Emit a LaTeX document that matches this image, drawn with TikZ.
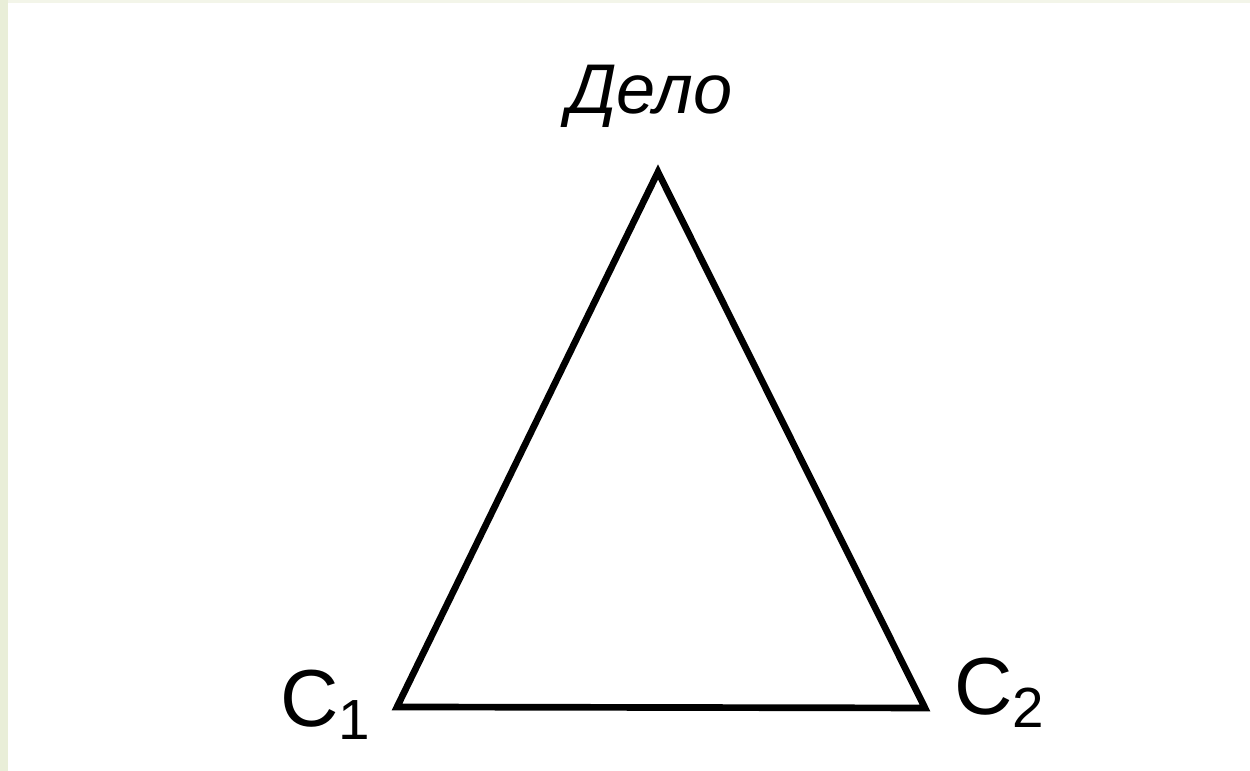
\documentclass[tikz,border=0pt]{standalone}
\usepackage{fontspec}
\setmainfont{Liberation Sans}
\usetikzlibrary{positioning}
\definecolor{stripgreen}{RGB}{233,238,216}
\definecolor{striptop}{RGB}{243,245,233}
\tikzset{
    side/.style={line width=1.9pt, line join=miter},
    corner/.style={font=\fontsize{23}{26}\selectfont, inner sep=0pt}
}
\begin{document}
\begin{tikzpicture}[x=0.01cm, y=0.01cm]
    % Frame
    \useasboundingbox (0, 0) rectangle (1250, 771);
    \fill[white] (0, 0) rectangle (1250, 771);
    \fill[striptop] (0, 768) rectangle (1250, 771);
    \fill[stripgreen] (0, 0) rectangle (8, 771);

    % Vertices
    \coordinate (delo) at (658, 599);
    \coordinate (c1) at (397, 64);
    \coordinate (c2) at (925, 63);

    % Triangle
    \draw[side] (delo) -- (c2) -- (c1) -- cycle;

    % Labels
    \node[font=\itshape\fontsize{20}{24}\selectfont, inner sep=0pt] (deloLabel) at (650, 675) {Дело};
    \node[corner] (c1Label) at (326, 66) {C\textsubscript{1}};
    \node[corner] (c2Label) at (1000, 78) {C\textsubscript{2}};
\end{tikzpicture}
\end{document}
